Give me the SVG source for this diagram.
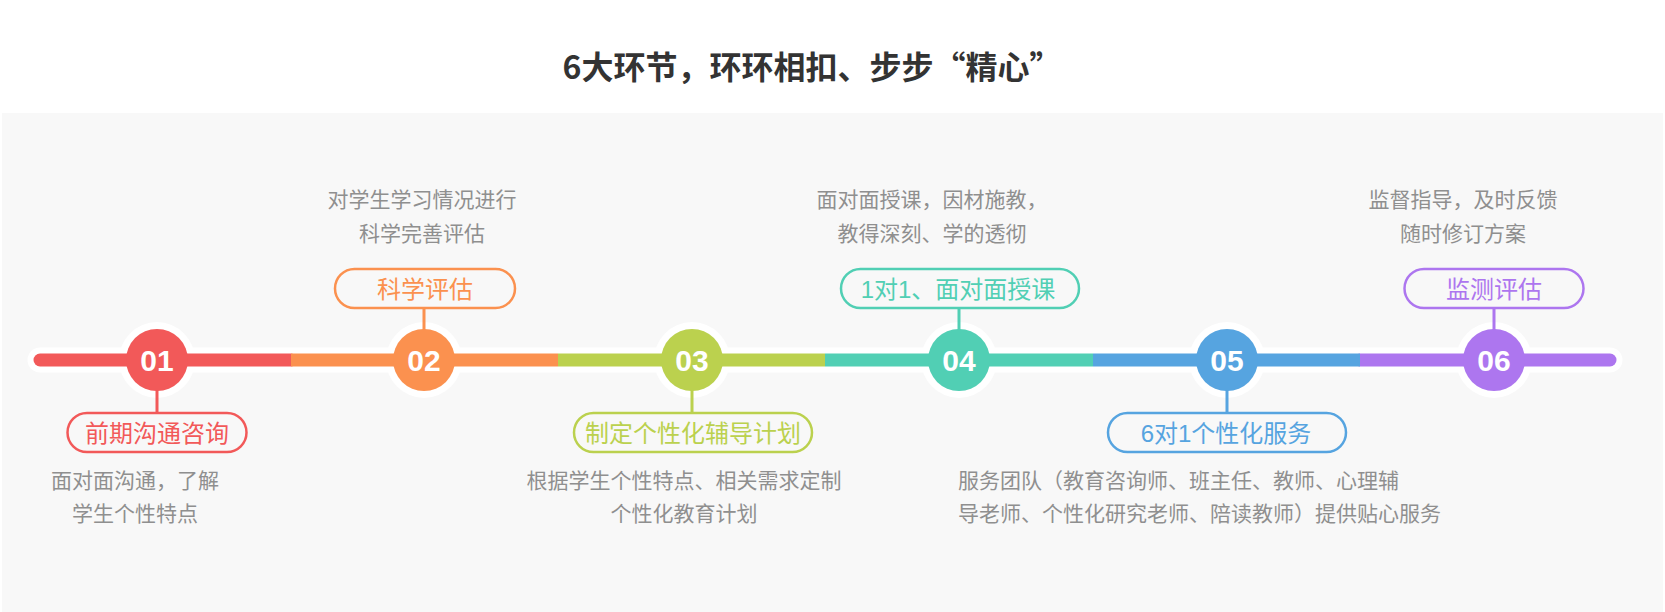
<svg xmlns="http://www.w3.org/2000/svg" width="1665" height="612" viewBox="0 0 1665 612">
<defs>
<style>
.title{font-family:"Noto Sans CJK SC","Liberation Sans",sans-serif;font-weight:700;font-size:32px;fill:#333333;text-anchor:middle}
.num{font-family:"Liberation Sans",Arial,sans-serif;font-weight:700;font-size:30px;fill:#ffffff;text-anchor:middle}
.lbl{font-family:"Liberation Sans","Noto Sans CJK SC",sans-serif;font-size:24px;text-anchor:middle}
.desc{font-family:"Liberation Sans","Noto Sans CJK SC",sans-serif;font-size:21px;fill:#8f8f8f;text-anchor:middle}
.descl{font-family:"Liberation Sans","Noto Sans CJK SC",sans-serif;font-size:21px;fill:#8f8f8f;text-anchor:start}
.box{fill:#f8f8f8;stroke-width:2.5}
.halo{fill:#ffffff}
.seg{stroke-width:13;fill:none}
.stem{stroke-width:3}
</style>
</defs>
<rect x="0" y="0" width="1665" height="612" fill="#ffffff"/>
<rect x="2" y="113" width="1661" height="499" fill="#f8f8f8"/>
<text class="title" x="812" y="79">6大环节，环环相扣、步步“精心”</text>

<g id="connectors">
<line x1="40" y1="360" x2="1610" y2="360" stroke="#ffffff" stroke-width="25" stroke-linecap="round"/>
<circle class="halo" cx="157" cy="360" r="38"/>
<circle class="halo" cx="424" cy="360" r="38"/>
<circle class="halo" cx="692" cy="360" r="38"/>
<circle class="halo" cx="959" cy="360" r="38"/>
<circle class="halo" cx="1227" cy="360" r="38"/>
<circle class="halo" cx="1494" cy="360" r="38"/>
<line class="seg" x1="40" y1="360" x2="291" y2="360" stroke="#f25959" stroke-linecap="round"/>
<line class="seg" x1="1360" y1="360" x2="1610" y2="360" stroke="#ad76ef" stroke-linecap="round"/>
<line class="seg" x1="291" y1="360" x2="558" y2="360" stroke="#fb914f"/>
<line class="seg" x1="558" y1="360" x2="825" y2="360" stroke="#bbd14e"/>
<line class="seg" x1="825" y1="360" x2="1093" y2="360" stroke="#51cfb4"/>
<line class="seg" x1="1093" y1="360" x2="1360" y2="360" stroke="#56a4e0"/>
<line class="stem" x1="157" y1="390" x2="157" y2="413" stroke="#f25959"/>
<line class="stem" x1="424" y1="308" x2="424" y2="330" stroke="#fb914f"/>
<line class="stem" x1="692" y1="390" x2="692" y2="413" stroke="#bbd14e"/>
<line class="stem" x1="959" y1="308" x2="959" y2="330" stroke="#51cfb4"/>
<line class="stem" x1="1227" y1="390" x2="1227" y2="413" stroke="#56a4e0"/>
<line class="stem" x1="1494" y1="308" x2="1494" y2="330" stroke="#ad76ef"/>
</g>

<g id="step01">
<circle cx="157" cy="360" r="31" fill="#f25959"/>
<text class="num" x="157" y="371">01</text>
<rect class="box" x="67.5" y="413" width="179" height="39" rx="19.5" stroke="#f25959"/>
<text class="lbl" x="157" y="442" fill="#f25959">前期沟通咨询</text>
<text class="desc" x="135" y="488">面对面沟通，了解</text>
<text class="desc" x="135" y="521">学生个性特点</text>
</g>

<g id="step02">
<circle cx="424" cy="360" r="31" fill="#fb914f"/>
<text class="num" x="424" y="371">02</text>
<rect class="box" x="335" y="269" width="180" height="39" rx="19.5" stroke="#fb914f"/>
<text class="lbl" x="425" y="298" fill="#fb914f">科学评估</text>
<text class="desc" x="422" y="207">对学生学习情况进行</text>
<text class="desc" x="422" y="241">科学完善评估</text>
</g>

<g id="step03">
<circle cx="692" cy="360" r="31" fill="#bbd14e"/>
<text class="num" x="692" y="371">03</text>
<rect class="box" x="574" y="413" width="238" height="39" rx="19.5" stroke="#bbd14e"/>
<text class="lbl" x="693" y="442" fill="#bbd14e">制定个性化辅导计划</text>
<text class="desc" x="684" y="488">根据学生个性特点、相关需求定制</text>
<text class="desc" x="684" y="521">个性化教育计划</text>
</g>

<g id="step04">
<circle cx="959" cy="360" r="31" fill="#51cfb4"/>
<text class="num" x="959" y="371">04</text>
<rect class="box" x="841" y="269" width="238" height="39" rx="19.5" stroke="#51cfb4"/>
<text class="lbl" x="958" y="298" fill="#51cfb4">1对1、面对面授课</text>
<text class="desc" x="932" y="207">面对面授课，因材施教，</text>
<text class="desc" x="932" y="241">教得深刻、学的透彻</text>
</g>

<g id="step05">
<circle cx="1227" cy="360" r="31" fill="#56a4e0"/>
<text class="num" x="1227" y="371">05</text>
<rect class="box" x="1108" y="413" width="238" height="39" rx="19.5" stroke="#56a4e0"/>
<text class="lbl" x="1226" y="442" fill="#56a4e0">6对1个性化服务</text>
<text class="descl" x="958" y="488">服务团队（教育咨询师、班主任、教师、心理辅</text>
<text class="descl" x="958" y="521">导老师、个性化研究老师、陪读教师）提供贴心服务</text>
</g>

<g id="step06">
<circle cx="1494" cy="360" r="31" fill="#ad76ef"/>
<text class="num" x="1494" y="371">06</text>
<rect class="box" x="1404.5" y="269" width="179" height="39" rx="19.5" stroke="#ad76ef"/>
<text class="lbl" x="1494" y="298" fill="#ad76ef">监测评估</text>
<text class="desc" x="1463" y="207">监督指导，及时反馈</text>
<text class="desc" x="1463" y="241">随时修订方案</text>
</g>
</svg>
